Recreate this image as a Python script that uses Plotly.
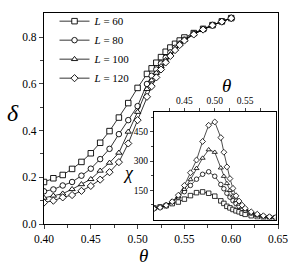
import plotly.graph_objects as go

# ---- data ----
theta = [0.40, 0.41, 0.42, 0.43, 0.44, 0.45, 0.46, 0.47, 0.48, 0.49, 0.50, 0.51,
         0.515, 0.52, 0.525, 0.53, 0.535, 0.54, 0.545, 0.55,
         0.56, 0.57, 0.58, 0.59, 0.60]

delta_L60 = [0.180, 0.196, 0.210, 0.236, 0.266, 0.303, 0.348, 0.398, 0.456, 0.518, 0.583, 0.643,
             0.667, 0.691, 0.715, 0.738, 0.756, 0.772, 0.786, 0.799,
             0.818, 0.836, 0.852, 0.868, 0.882]
delta_L80 = [0.140, 0.148, 0.165, 0.180, 0.207, 0.237, 0.278, 0.322, 0.385, 0.445, 0.505, 0.600,
             0.635, 0.662, 0.688, 0.712, 0.735, 0.755, 0.773, 0.790,
             0.816, 0.835, 0.852, 0.868, 0.882]
delta_L100 = [0.112, 0.121, 0.130, 0.149, 0.170, 0.192, 0.228, 0.262, 0.305, 0.395, 0.480, 0.578,
              0.615, 0.647, 0.676, 0.702, 0.727, 0.750, 0.770, 0.788,
              0.814, 0.834, 0.851, 0.868, 0.882]
delta_L120 = [0.092, 0.100, 0.114, 0.124, 0.142, 0.163, 0.190, 0.222, 0.265, 0.345, 0.445, 0.545,
              0.590, 0.628, 0.662, 0.692, 0.720, 0.745, 0.767, 0.786,
              0.812, 0.833, 0.851, 0.867, 0.882]

chi_L60 = [60, 65, 71, 82, 90, 105, 123, 138, 142, 135, 120, 96,
           83, 68, 60, 52, 45, 40, 33, 27,
           20, 15, 12, 10, 9]
chi_L80 = [58, 64, 75, 92, 115, 143, 175, 207, 232, 245, 222, 180,
           158, 135, 115, 97, 82, 68, 57, 47,
           33, 23, 17, 13, 10]
chi_L100 = [57, 63, 74, 92, 118, 155, 205, 262, 315, 358, 345, 265,
            222, 185, 150, 122, 98, 80, 64, 52,
            35, 25, 18, 14, 11]
chi_L120 = [56, 62, 73, 92, 125, 175, 240, 305, 400, 483, 500, 420,
            345, 270, 210, 160, 122, 95, 74, 58,
            40, 28, 20, 15, 12]

labels = ["60", "80", "100", "120"]
symbols = ["square", "circle", "triangle-up", "diamond"]

# ---- figure ----
SERIF = "Liberation Serif"
fig = go.Figure()

deltas = [delta_L60, delta_L80, delta_L100, delta_L120]
chis = [chi_L60, chi_L80, chi_L100, chi_L120]

for lab, sym, d in zip(labels, symbols, deltas):
    fig.add_trace(go.Scatter(
        x=theta, y=d, mode="lines+markers", name=f"<i>L</i> = {lab}",
        line=dict(color="black", width=0.8),
        marker=dict(symbol=sym, size=5.5, color="white",
                    line=dict(color="black", width=0.9)),
        xaxis="x", yaxis="y"))

for lab, sym, c in zip(labels, symbols, chis):
    fig.add_trace(go.Scatter(
        x=theta, y=c, mode="lines+markers", showlegend=False,
        line=dict(color="black", width=0.7),
        marker=dict(symbol=sym, size=4.5, color="white",
                    line=dict(color="black", width=0.8)),
        xaxis="x2", yaxis="y2"))

W, H = 294, 273
L_, R_, T_, B_ = 44, 16, 7, 49
pw, ph = W - L_ - R_, H - T_ - B_

def px(xp):
    return (xp - L_) / pw

def py(yp):
    return (H - B_ - yp) / ph

fig.update_layout(
    width=W, height=H,
    margin=dict(l=L_, r=R_, t=T_, b=B_),
    paper_bgcolor="white", plot_bgcolor="white",
    font=dict(family=SERIF, color="black", size=11),
    showlegend=True,
    legend=dict(x=0.045, y=1.03, xanchor="left", yanchor="top",
                bgcolor="rgba(0,0,0,0)", font=dict(size=11, family=SERIF),
                itemwidth=30),
    xaxis=dict(domain=[0, 1], range=[0.40, 0.65], tickvals=[0.40, 0.45, 0.50, 0.55, 0.60, 0.65],
               tickformat=".2f", ticks="outside", ticklen=4, tickwidth=1,
               minor=dict(tickvals=[0.425, 0.475, 0.525, 0.575, 0.625], ticks="outside", ticklen=2.5),
               showline=True, linewidth=1.3, linecolor="black", mirror=True,
               showgrid=False, zeroline=False, tickfont=dict(size=11.5, family=SERIF)),
    yaxis=dict(domain=[0, 1], range=[0, 0.904], tickvals=[0.0, 0.2, 0.4, 0.6, 0.8],
               tickformat=".1f", ticks="outside", ticklen=4, tickwidth=1,
               minor=dict(tickvals=[0.1, 0.3, 0.5, 0.7], ticks="outside", ticklen=2.5),
               showline=True, linewidth=1.3, linecolor="black", mirror=True,
               showgrid=False, zeroline=False, tickfont=dict(size=11.5, family=SERIF)),
    xaxis2=dict(domain=[px(154), px(275.5)], anchor="y2", side="top",
                range=[0.40, 0.60], tickvals=[0.45, 0.50, 0.55], tickformat=".2f",
                ticks="outside", ticklen=3, tickwidth=0.8,
                minor=dict(tickvals=[0.425, 0.475, 0.525, 0.575], ticks="outside", ticklen=3),
                showline=True, linewidth=1, linecolor="black", mirror=True,
                showgrid=False, zeroline=False, tickfont=dict(size=9.5, family=SERIF)),
    yaxis2=dict(domain=[py(219.5), py(109)], anchor="x2",
                range=[0, 550], tickvals=[150, 300, 450],
                ticks="outside", ticklen=3, tickwidth=0.8,
                minor=dict(tickvals=[75, 225, 375, 525], ticks="outside", ticklen=2),
                showline=True, linewidth=1, linecolor="black", mirror=True,
                showgrid=False, zeroline=False, tickfont=dict(size=9.5, family=SERIF)),
)

ann = [
    ("<i>δ</i>", px(13), py(110), 24),
    ("<i>θ</i>", px(143), py(256.5), 19),
    ("<i>θ</i>", px(226), py(82), 19),
    ("<i>χ</i>", px(128), py(172), 18),
]
for txt, x, y, s in ann:
    fig.add_annotation(text=txt, x=x, y=y, xref="paper", yref="paper",
                       xanchor="center", yanchor="middle", showarrow=False,
                       font=dict(size=s, family=SERIF, color="black"))

fig.write_html("out.html", config={"displayModeBar": False},
               post_script="document.body.style.margin='0';")
